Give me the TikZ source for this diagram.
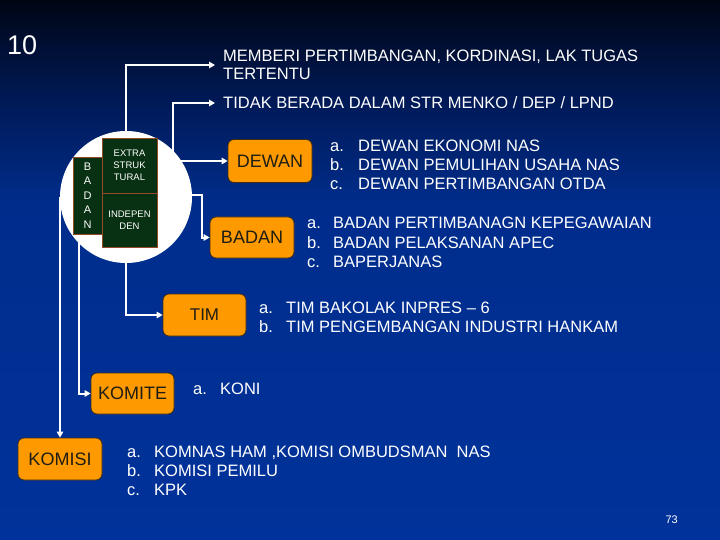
\documentclass[tikz,border=0pt]{standalone}
\usepackage{fontspec}
\setmainfont{Liberation Sans}
\usetikzlibrary{arrows.meta}
\definecolor{orangebox}{RGB}{255,153,0}
\definecolor{boxedge}{RGB}{60,45,20}
\definecolor{boxtext}{RGB}{30,30,20}
\definecolor{greenbox}{RGB}{8,48,18}
\definecolor{greenedge}{RGB}{150,75,40}
\definecolor{bgtop}{RGB}{0,5,20}
\definecolor{bgupper}{RGB}{0,25,85}
\definecolor{bgmid}{RGB}{0,45,140}
\definecolor{bgbot}{RGB}{0,50,155}
\pgfdeclareverticalshading{bgsh}{100bp}{color(0bp)=(bgbot); color(25bp)=(bgbot); color(56bp)=(bgmid); color(66bp)=(bgupper); color(75bp)=(bgtop); color(100bp)=(bgtop)}
\begin{document}
\begin{tikzpicture}[x=1pt,y=-1pt,
  conn/.style={draw=white, line width=2pt, -{Triangle[length=6pt,width=6.5pt]}},
  obox/.style={draw=boxedge, line width=0.8pt, fill=orangebox, rounded corners=6pt,
    text=boxtext, font=\fontsize{18}{20}\selectfont, inner sep=0pt, align=center},
  gbox/.style={draw=greenedge, line width=0.8pt, fill=greenbox, text=white,
    inner sep=0pt, align=center, font=\fontsize{9.5}{12}\selectfont},
  lst/.style={text=white, anchor=base west, inner sep=0pt, font=\fontsize{16.5}{19}\selectfont},
  lbl/.style={text=white, anchor=base west, inner sep=0pt, font=\fontsize{16.5}{19}\selectfont}
]
\useasboundingbox (0,0) rectangle (720,540);
\shade[shading=bgsh] (0,0) rectangle (720,540);

% title and page number
\node[text=white, anchor=base west, inner sep=0pt, font=\fontsize{27}{30}\selectfont] (ten) at (7,55) {10};
\node[text=white, anchor=base east, inner sep=0pt, font=\fontsize{11}{12}\selectfont] (pg) at (678,523) {73};

% orange boxes
\node[obox, minimum width=84pt, minimum height=43pt] (dewan) at (270,161) {DEWAN};
\node[obox, minimum width=84pt, minimum height=41pt] (badan) at (252,237.5) {BADAN};
\node[obox, minimum width=83pt, minimum height=42pt, font=\fontsize{17}{20}\selectfont] (tim) at (204.5,315) {TIM};
\node[obox, minimum width=83pt, minimum height=41pt] (komite) at (132.5,393.5) {KOMITE};
\node[obox, minimum width=84pt, minimum height=42pt] (komisi) at (60,459) {KOMISI};

% top texts
\node[lbl] (mem1) at (223,62) {MEMBERI PERTIMBANGAN, KORDINASI, LAK TUGAS};
\node[lbl] (mem2) at (223,80) {TERTENTU};
\node[lbl] (tidak) at (223,109) {TIDAK BERADA DALAM STR MENKO / DEP / LPND};
\coordinate (mt) at (215,65);
\coordinate (tt) at (215,103);

% connector start points (hidden under the circle)
\coordinate (s1) at (126,180);
\coordinate (s2) at (173,180);
\coordinate (s3) at (150,161);
\coordinate (s4) at (150,195);
\coordinate (b1) at (202,195);
\coordinate (s5) at (126,230);
\coordinate (s6) at (79,230);
\coordinate (s7) at (60,197);

\draw[conn] (s1) |- (mt);
\draw[conn] (s2) |- (tt);
\draw[conn] (s3) -- (dewan.west);
\draw[conn] (s4) -- (b1) |- (badan.west);
\draw[conn] (s5) |- (tim.west);
\draw[conn] (s6) |- (komite.west);
\draw[conn] (s7) -- (komisi.north);

% circle with green boxes
\node[circle, fill=white, minimum size=132pt, inner sep=0pt] (circ) at (126,197) {};
\node[gbox, minimum width=29pt, minimum height=77pt, font=\fontsize{11}{14.5}\selectfont] (vbadan) at (87.5,195.5) {B\\A\\D\\A\\N};
\node[gbox, minimum width=55pt, minimum height=55pt] (extra) at (129.5,165.5) {EXTRA\\STRUK\\TURAL};
\node[gbox, minimum width=55pt, minimum height=54pt] (indep) at (129.5,220) {INDEPEN\\DEN};

% lists
\node[lst] (d1) at (330,152) {\makebox[28pt][l]{a.}DEWAN EKONOMI NAS};
\node[lst] (d2) at (330,171) {\makebox[28pt][l]{b.}DEWAN PEMULIHAN USAHA NAS};
\node[lst] (d3) at (330,189.5) {\makebox[28pt][l]{c.}DEWAN PERTIMBANGAN OTDA};

\node[lst] (e1) at (307,229) {\makebox[26pt][l]{a.}BADAN PERTIMBANAGN KEPEGAWAIAN};
\node[lst] (e2) at (307,248) {\makebox[26pt][l]{b.}BADAN PELAKSANAN APEC};
\node[lst] (e3) at (307,267) {\makebox[26pt][l]{c.}BAPERJANAS};

\node[lst] (t1) at (259,313) {\makebox[27pt][l]{a.}TIM BAKOLAK INPRES – 6};
\node[lst] (t2) at (259,332) {\makebox[27pt][l]{b.}TIM PENGEMBANGAN INDUSTRI HANKAM};

\node[lst] (k1) at (193,394) {\makebox[27pt][l]{a.}KONI};

\node[lst] (m1) at (127,457) {\makebox[27pt][l]{a.}KOMNAS HAM ,KOMISI OMBUDSMAN\ \ NAS};
\node[lst] (m2) at (127,476) {\makebox[27pt][l]{b.}KOMISI PEMILU};
\node[lst] (m3) at (127,495) {\makebox[27pt][l]{c.}KPK};
\end{tikzpicture}
\end{document}
